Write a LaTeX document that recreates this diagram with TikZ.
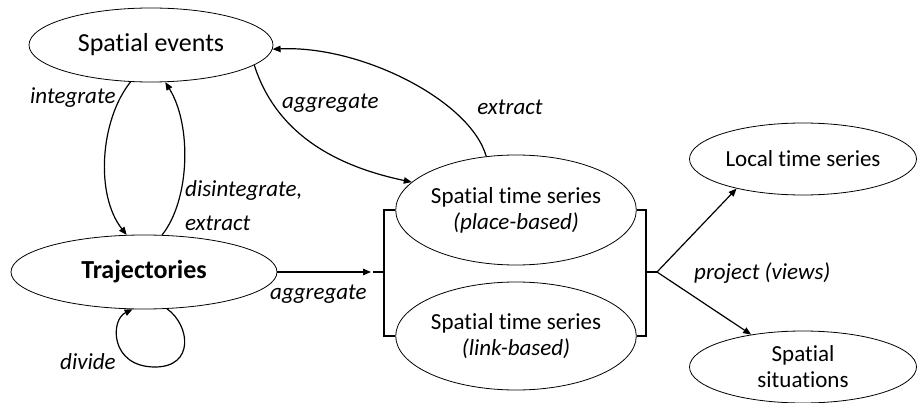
\documentclass[tikz,border=0pt]{standalone}
\usepackage{fontspec}
\setmainfont{Carlito}[Ligatures=NoCommon]
\usetikzlibrary{arrows.meta,shapes.geometric}
\begin{document}
\begin{tikzpicture}[x=1pt,y=-1pt,
  ell/.style={ellipse,draw,line width=0.8pt,inner sep=0pt,align=center,font=\fontsize{23}{26}\selectfont},
  conn/.style={line width=1.2pt,-{Triangle[length=8pt,width=6.5pt]}},
  plainconn/.style={line width=1.2pt},
  brk/.style={line width=2pt},
  lbl/.style={font=\fontsize{23}{26}\selectfont\itshape,inner sep=0pt}]
\useasboundingbox (0,0) rectangle (917,403);
% nodes
\node[ell,minimum width=244pt,minimum height=74pt,font=\fontsize{26}{30}\selectfont] (se) at (151,45) {Spatial events};
\node[ell,minimum width=266pt,minimum height=74pt,font=\fontsize{26}{30}\selectfont\bfseries] (tr) at (144,272) {Trajectories};
\node[ell,minimum width=240pt,minimum height=110pt] (pl) at (516,210) {Spatial time series\\\itshape(place-based)};
\node[ell,minimum width=240pt,minimum height=108pt] (lk) at (516,336) {Spatial time series\\\itshape(link-based)};
\node[ell,minimum width=227pt,minimum height=72pt] (lt) at (803,159) {Local time series};
\node[ell,minimum width=227pt,minimum height=72pt] (ss) at (803,367) {Spatial\\situations};
% bracket coordinates
\coordinate (lb) at (384,272);
\coordinate (lbt) at (373,272);
\coordinate (la) at (371,272);
\coordinate (rb) at (646,272);
\coordinate (rbt) at (657,272);
% brackets
\draw[brk] (pl.west) -| (lb) |- (lk.west);
\draw[brk] (lb) -- (lbt);
\draw[brk] (pl.east) -| (rb) |- (lk.east);
\draw[brk] (rb) -- (rbt);
% connectors
\draw[conn] (se.-119) .. controls (100,120) and (95,195) .. (tr.115);
\draw[conn] (tr.64) .. controls (190,200) and (192,125) .. (se.-69);
\draw[conn] (se.-11) .. controls (275,130) and (330,165) .. (pl.165);
\draw[conn] (pl.119) .. controls (470,100) and (360,45) .. (se.-2);
\draw[conn] (tr.east) -- (la);
\draw[plainconn] (tr.-58) .. controls (190,325) and (195,367) .. (155,367);
\draw[conn] (155,367) .. controls (110,367) and (110,320) .. (tr.-107);
\draw[conn] (rbt) -- (lt.204);
\draw[conn] (rbt) -- (ss.148);
% labels
\node[lbl,anchor=west] (l1) at (30,98) {integrate};
\node[lbl,anchor=west] (l2) at (185,190) {disintegrate,};
\node[lbl,anchor=west] (l3) at (185,223) {extract};
\node[lbl,anchor=west] (l4) at (282,103) {aggregate};
\node[lbl] (l5) at (510,107) {extract};
\node[lbl,anchor=west] (l6) at (270,294) {aggregate};
\node[lbl,anchor=west] (l7) at (60,362) {divide};
\node[lbl,anchor=west] (l8) at (694,273) {project (views)};
\end{tikzpicture}
\end{document}
